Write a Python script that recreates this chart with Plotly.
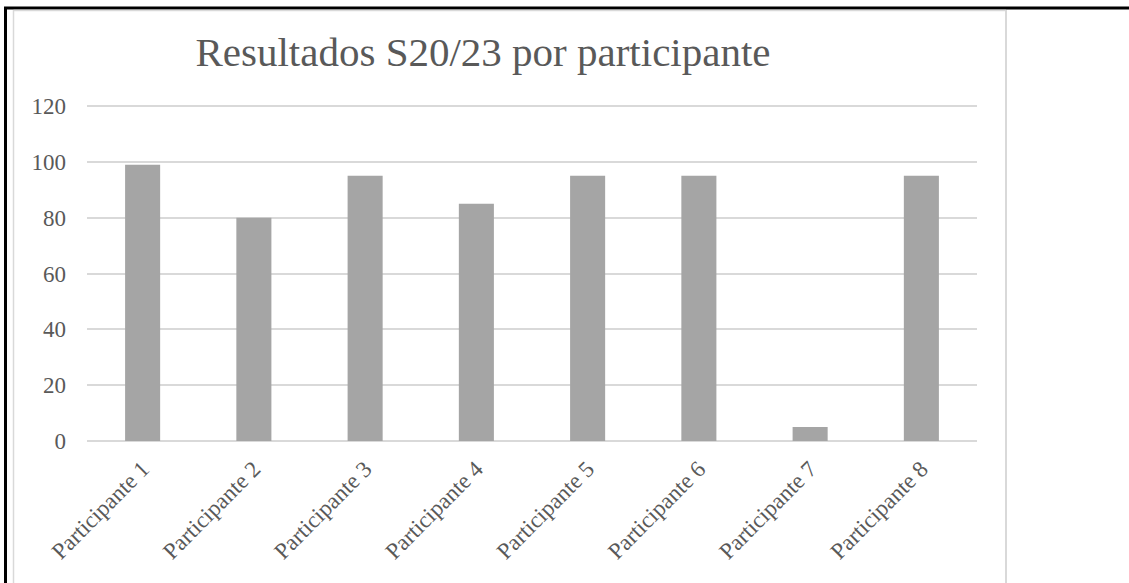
import plotly.graph_objects as go

categories = ["Participante 1", "Participante 2", "Participante 3", "Participante 4",
              "Participante 5", "Participante 6", "Participante 7", "Participante 8"]
values = [99, 80, 95, 85, 95, 95, 5, 95]
title_text = "Resultados S20/23 por participante"

W, H = 1129, 583
L, R, T, B = 87, 977, 103, 441
YMAX = 121.1

def px(x):
    return (x - L) / (R - L)

def py(y):
    return (B - y) / (B - T)

fig = go.Figure(go.Bar(x=categories, y=values, marker=dict(color="#a5a5a5", line=dict(width=0)),
                       width=0.315))

font_family = "Liberation Serif, Times New Roman, serif"
fig.update_layout(
    width=W, height=H,
    margin=dict(l=L, r=W - R, t=T, b=H - B),
    paper_bgcolor="white", plot_bgcolor="white",
    showlegend=False,
    font=dict(family=font_family, color="#595959", size=23),
    title=dict(text=title_text, x=(483) / W, xanchor="center", y=1 - 52 / H, yanchor="middle",
               font=dict(family=font_family, size=41, color="#595959")),
)
fig.update_yaxes(range=[0, YMAX], tickvals=[0, 20, 40, 60, 80, 100, 120], showgrid=True,
                 gridcolor="#d9d9d9", gridwidth=1.5,
                 zeroline=True, zerolinecolor="#d9d9d9", zerolinewidth=1.5, showline=False,
                 ticklabelstandoff=20, tickfont=dict(size=23, color="#595959"), fixedrange=True)
fig.update_xaxes(tickangle=-45, showline=False, showgrid=False, ticks="",
                 ticklabelstandoff=9,
                 tickfont=dict(size=23, color="#595959"), fixedrange=True)

shapes = []
# black outer border (top and left)
shapes.append(dict(type="line", xref="paper", yref="paper", x0=px(4), x1=px(1129), y0=py(8), y1=py(8),
                   line=dict(color="black", width=3)))
shapes.append(dict(type="line", xref="paper", yref="paper", x0=px(5.5), x1=px(5.5), y0=py(7), y1=py(583),
                   line=dict(color="black", width=3)))
# gray inner border
shapes.append(dict(type="line", xref="paper", yref="paper", x0=px(13.5), x1=px(1006), y0=py(10.5), y1=py(10.5),
                   line=dict(color="#d9d9d9", width=1.5)))
shapes.append(dict(type="line", xref="paper", yref="paper", x0=px(13.5), x1=px(13.5), y0=py(10), y1=py(583),
                   line=dict(color="#d9d9d9", width=1.5)))
shapes.append(dict(type="line", xref="paper", yref="paper", x0=px(1006), x1=px(1006), y0=py(10), y1=py(583),
                   line=dict(color="#d9d9d9", width=2)))
fig.update_layout(shapes=shapes)

fig.write_html("out.html")
